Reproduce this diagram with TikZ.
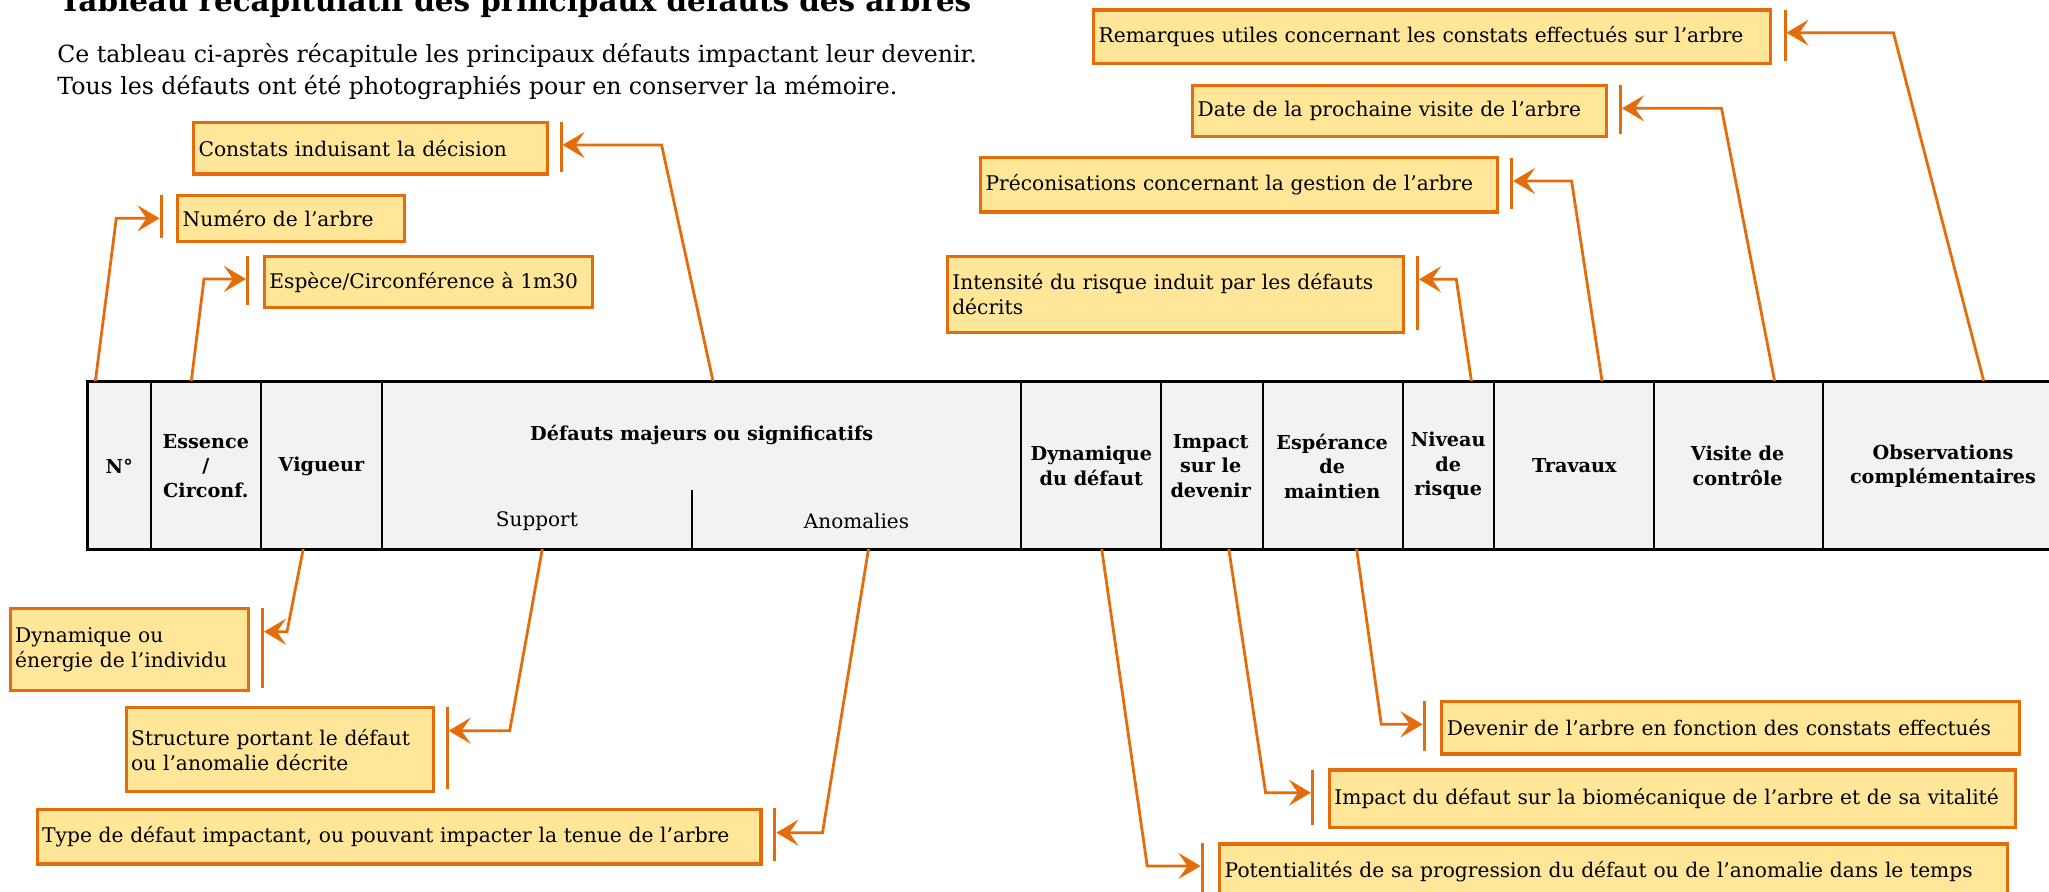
\documentclass[tikz,border=0pt]{standalone}
\usepackage{fontspec}
\setmainfont{DejaVu Serif}
\usetikzlibrary{arrows.meta}
\definecolor{org}{HTML}{E46C0A}
\definecolor{yel}{HTML}{FFE699}
\definecolor{tgray}{HTML}{F2F2F2}
\newcommand\callbox[6]{%
  \pgfmathsetmacro\cbw{(#4-#2)*0.5-5}%
  \node[box,minimum width={(#4-#2)*0.5pt},minimum height={(#5-#3)*0.5pt},text width=\cbw pt] (#1) at (#2,#3) {#6};}
\newcommand\accbar[3]{\draw[accent] (#1,#2) -- (#1,#3);}
\begin{document}
\begin{tikzpicture}[x=0.5pt,y=-0.5pt,
  box/.style={draw=org, fill=yel, line width=1.6pt, anchor=north west, inner xsep=2.5pt, inner ysep=0pt, align=left, font=\fontsize{10.1}{12.5}\selectfont, text=black},
  accent/.style={draw=org, line width=1.5pt},
  conn/.style={draw=org, line width=1.4pt, -{Stealth[length=11pt,width=13pt,inset=4.5pt]}},
  hdr/.style={font=\bfseries\fontsize{9.6}{12.25}\selectfont, align=center, inner sep=0pt},
  reg/.style={font=\fontsize{10}{12.5}\selectfont, align=center, inner sep=0pt},
  tline/.style={line width=1pt, draw=black},
  touter/.style={line width=1.5pt, draw=black},
]
\useasboundingbox (0,0) rectangle (2049,891);
\clip (0,0) rectangle (2049,891);

% title and intro
\node[anchor=base west, font=\bfseries\fontsize{14.7}{17}\selectfont, inner sep=0pt] (title) at (59,11) {Tableau récapitulatif des principaux défauts des arbres};
\node[anchor=base west, font=\fontsize{11.8}{15.5}\selectfont, inner sep=0pt] (intro1) at (57,62) {Ce tableau ci-après récapitule les principaux défauts impactant leur devenir.};
\node[anchor=base west, font=\fontsize{11.8}{15.5}\selectfont, inner sep=0pt] (intro2) at (57,94) {Tous les défauts ont été photographiés pour en conserver la mémoire.};

% table
\fill[tgray] (87.7,381) rectangle (2070,549);
\foreach \xx in {150.8,261,382,1021.4,1160.6,1262.9,1403.4,1493.7,1653.6,1822.9}
  \draw[tline] (\xx,381) -- (\xx,549);
\draw[tline] (691.7,490) -- (691.7,549);
\draw[touter] (2070,381) -- (87.7,381) -- (87.7,549) -- (2070,549);

\node[hdr] (hN) at (119.3,466) {N°};
\node[hdr] (hE) at (205.9,466) {Essence\\/\\Circonf.};
\node[hdr] (hV) at (321.5,466) {Vigueur};
\node[hdr] (hD) at (701.7,435) {Défauts majeurs ou significatifs};
\node[reg] (hS) at (536.9,520.7) {Support};
\node[reg] (hA) at (856.5,520.7) {Anomalies};
\node[hdr] (hDy) at (1091.3,466) {Dynamique\\du défaut};
\node[hdr] (hI) at (1210.7,466) {Impact\\sur le\\devenir};
\node[hdr] (hEs) at (1332.2,466) {Espérance\\de\\maintien};
\node[hdr] (hNi) at (1448.2,466) {Niveau\\de\\risque};
\node[hdr] (hT) at (1574.3,466) {Travaux};
\node[hdr] (hVi) at (1737.6,466) {Visite de\\contrôle};
\node[hdr] (hO) at (1943,466) {Observations\\complémentaires};

% callouts
\callbox{c1}{192}{120.7}{545.8}{172.3}{Constats induisant la décision}
\accbar{561}{121.7}{171.7}
\coordinate (s1) at (713,381); \coordinate (k1) at (661.6,145); \coordinate (e1) at (562.5,145);
\draw[conn] (s1) -- (k1) -- (e1);

\callbox{c2}{176}{194}{403}{240}{Numéro de l’arbre}
\accbar{161}{195}{238}
\coordinate (s2) at (95.4,381); \coordinate (k2) at (116.3,218.3); \coordinate (e2) at (159.5,218.3);
\draw[conn] (s2) -- (k2) -- (e2);

\callbox{c3}{262.8}{255}{590.8}{306}{Espèce/Circonférence à 1m30}
\accbar{247.4}{256}{305}
\coordinate (s3) at (191.3,381); \coordinate (k3) at (204,279); \coordinate (e3) at (246,279);
\draw[conn] (s3) -- (k3) -- (e3);

\callbox{c4}{1092}{8.3}{1769}{61.7}{Remarques utiles concernant les constats effectués sur l’arbre}
\accbar{1785}{10}{60.7}
\coordinate (s4) at (1983.7,381); \coordinate (k4) at (1893.4,32.7); \coordinate (e4) at (1786.5,32.7);
\draw[conn] (s4) -- (k4) -- (e4);

\callbox{c5}{1191}{84}{1604.8}{135}{Date de la prochaine visite de l’arbre}
\accbar{1620.4}{85}{134.3}
\coordinate (s5) at (1774.6,381); \coordinate (k5) at (1721.5,108.3); \coordinate (e5) at (1622,108.3);
\draw[conn] (s5) -- (k5) -- (e5);

\callbox{c6}{979}{156}{1496}{210.3}{Préconisations concernant la gestion de l’arbre}
\accbar{1511.5}{158}{209}
\coordinate (s6) at (1602,381); \coordinate (k6) at (1571.6,181); \coordinate (e6) at (1513,181);
\draw[conn] (s6) -- (k6) -- (e6);

\callbox{c7}{945.7}{255}{1401.8}{330.7}{Intensité du risque induit par les défauts\\décrits}
\accbar{1417.4}{256}{330}
\coordinate (s7) at (1471.4,381); \coordinate (k7) at (1456.3,279.3); \coordinate (e7) at (1419,279.3);
\draw[conn] (s7) -- (k7) -- (e7);

\callbox{c8}{8.6}{606.7}{246.8}{688.7}{Dynamique ou\\énergie de l’individu}
\accbar{262.3}{608.3}{687.7}
\coordinate (s8) at (303.2,549); \coordinate (k8) at (287,631.7); \coordinate (e8) at (264,631.7);
\draw[conn] (s8) -- (k8) -- (e8);

\callbox{c9}{124.6}{706}{431.6}{790}{Structure portant le défaut\\ou l’anomalie décrite}
\accbar{447.1}{707.3}{789.3}
\coordinate (s9) at (542.3,549); \coordinate (k9) at (509.7,730.7); \coordinate (e9) at (448.6,730.7);
\draw[conn] (s9) -- (k9) -- (e9);

\callbox{c10}{35.6}{807.7}{759.4}{862.3}{Type de défaut impactant, ou pouvant impacter la tenue de l’arbre}
\accbar{774.9}{808.3}{861}
\coordinate (s10) at (868.5,549); \coordinate (k10) at (822.5,832.7); \coordinate (e10) at (776.4,832.7);
\draw[conn] (s10) -- (k10) -- (e10);

\callbox{c11}{1440.2}{700}{2018.2}{752.3}{Devenir de l’arbre en fonction des constats effectués}
\accbar{1424.1}{701}{751}
\coordinate (s11) at (1356.6,549); \coordinate (k11) at (1381.3,724.3); \coordinate (e11) at (1422.6,724.3);
\draw[conn] (s11) -- (k11) -- (e11);

\callbox{c12}{1327.8}{768.3}{2013.5}{826}{Impact du défaut sur la biomécanique de l’arbre et de sa vitalité}
\accbar{1312.4}{770}{825}
\coordinate (s12) at (1228.8,549); \coordinate (k12) at (1265.6,792.7); \coordinate (e12) at (1310.9,792.7);
\draw[conn] (s12) -- (k12) -- (e12);

\callbox{c13}{1218.1}{842.3}{2005.5}{898}{Potentialités de sa progression du défaut ou de l’anomalie dans le temps}
\accbar{1202}{843.3}{897}
\coordinate (s13) at (1101.7,549); \coordinate (k13) at (1147.2,866); \coordinate (e13) at (1200.5,866);
\draw[conn] (s13) -- (k13) -- (e13);
\end{tikzpicture}
\end{document}
